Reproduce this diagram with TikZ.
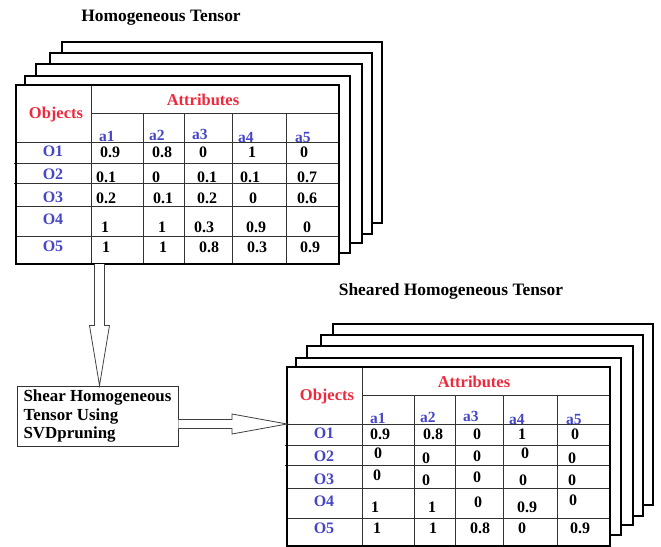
\documentclass[tikz,border=0pt]{standalone}
\usepackage{fontspec}
\setmainfont{Liberation Serif}
\usetikzlibrary{calc}
\definecolor{objred}{RGB}{240,40,60}
\definecolor{labblue}{RGB}{70,70,200}
\tikzset{
 frame/.style={draw=black, line width=2.6pt, fill=white},
 gridline/.style={draw=black!80, line width=0.9pt},
 hdr/.style={font=\fontsize{16.5}{18}\selectfont\bfseries, text=objred, inner sep=0pt, text height=11pt, text depth=0pt},
 rowlab/.style={font=\fontsize{16}{18}\selectfont\bfseries, text=labblue, inner sep=0pt, text height=11pt, text depth=0pt},
 collab/.style={font=\fontsize{15.5}{18}\selectfont\bfseries, text=labblue, inner sep=0pt, text depth=0pt, anchor=base west},
 val/.style={font=\fontsize{16}{18}\selectfont\bfseries, inner sep=0pt, text height=10.5pt, text depth=0pt},
 ttl/.style={font=\fontsize{17.4}{19}\selectfont\bfseries, inner sep=0pt, text height=11pt, text depth=0pt},
 hollow/.style={draw=black!75, line width=0.8pt, fill=white, line join=miter},
 procbox/.style={draw=black!80, line width=0.9pt, fill=white, minimum width=161pt, minimum height=60pt, inner sep=0pt, align=left, font=\fontsize{16.9}{18.7}\selectfont\bfseries},
}
\newcommand\tensorgrid[3]{%
\begin{scope}[shift={(#1,#2)}]
\draw[frame] (62,42) rectangle (382,223);
\draw[frame] (50,53) rectangle (372,234);
\draw[frame] (36,64) rectangle (362,243);
\draw[frame] (25,76) rectangle (350,253);
\draw[frame] (16,85) rectangle (339,264);
\coordinate (#3nw) at (16,85);
\coordinate (#3se) at (339,264);
\coordinate (#3tip) at (16,142);
\draw[gridline] (91,85) -- (91,264);
\draw[gridline] (91,113) -- (339,113);
\draw[gridline] (16,142) -- (339,142);
\draw[gridline] (14,163) -- (339,163);
\draw[gridline] (14,183) -- (339,183);
\draw[gridline] (16,206) -- (339,206);
\draw[gridline] (16,236) -- (339,236);
\foreach \cx in {143,184,232,286} \draw[gridline] (\cx,113) -- (\cx,264);
\draw[draw=black, line width=2.6pt] (16,85) rectangle (339,264);
\node[hdr] (#3obj) at (56,113) {Objects};
\node[hdr] (#3att) at (203,100) {Attributes};
\node[collab] (#3a1) at (99,141.5) {a1};
\node[collab] (#3a2) at (149,140) {a2};
\node[collab] (#3a3) at (192,139) {a3};
\node[collab] (#3a4) at (238,142) {a4};
\node[collab] (#3a5) at (295,142) {a5};
\node[rowlab] (#3o1) at (53,151) {O1};
\node[rowlab] (#3o2) at (53,174) {O2};
\node[rowlab] (#3o3) at (53,197) {O3};
\node[rowlab] (#3o4) at (53,219) {O4};
\node[rowlab] (#3o5) at (53,246) {O5};
\end{scope}}
\newcommand\cellval[4]{\node[val] (#1) at (#2,#3) {#4};}
\begin{document}
\begin{tikzpicture}[x=1pt,y=-1pt]
\useasboundingbox (0,0) rectangle (661,546);
% titles
\node[ttl] (title1) at (161,15.5) {Homogeneous Tensor};
\node[ttl] (title2) at (451,290) {Sheared Homogeneous Tensor};
% top tensor
\tensorgrid{0}{0}{T}
\cellval{t11}{110}{152}{0.9}\cellval{t12}{162}{152}{0.8}\cellval{t13}{203}{152}{0}\cellval{t14}{252}{152}{1}\cellval{t15}{304}{152}{0}
\cellval{t21}{106}{177}{0.1}\cellval{t22}{156}{177}{0}\cellval{t23}{207}{177}{0.1}\cellval{t24}{250}{177}{0.1}\cellval{t25}{307}{177}{0.7}
\cellval{t31}{106}{198}{0.2}\cellval{t32}{163}{198}{0.1}\cellval{t33}{207}{198}{0.2}\cellval{t34}{253}{198}{0}\cellval{t35}{307}{198}{0.6}
\cellval{t41}{105}{227}{1}\cellval{t42}{162}{227}{1}\cellval{t43}{204}{227}{0.3}\cellval{t44}{256}{227}{0.9}\cellval{t45}{307}{227}{0}
\cellval{t51}{106}{247}{1}\cellval{t52}{163}{247}{1}\cellval{t53}{209}{247}{0.8}\cellval{t54}{257}{247}{0.3}\cellval{t55}{310}{247}{0.9}
% bottom tensor
\tensorgrid{271}{282}{B}
\cellval{b11}{380}{434}{0.9}\cellval{b12}{433}{434}{0.8}\cellval{b13}{477}{434}{0}\cellval{b14}{522}{434}{1}\cellval{b15}{575}{434}{0}
\cellval{b21}{378}{453}{0}\cellval{b22}{426}{458}{0}\cellval{b23}{477}{456}{0}\cellval{b24}{525}{453}{0}\cellval{b25}{572}{458}{0}
\cellval{b31}{377}{475}{0}\cellval{b32}{426}{480}{0}\cellval{b33}{477}{477}{0}\cellval{b34}{523}{480}{0}\cellval{b35}{572}{480}{0}
\cellval{b41}{375}{507}{1}\cellval{b42}{432}{507}{1}\cellval{b43}{478}{502}{0}\cellval{b44}{527}{507}{0.9}\cellval{b45}{573}{500}{0}
\cellval{b51}{377}{528}{1}\cellval{b52}{433}{528}{1}\cellval{b53}{480}{528}{0.8}\cellval{b54}{522}{528}{0}\cellval{b55}{580}{528}{0.9}
% process box
\node[procbox] (svd) at (97.5,416) {Shear Homogeneous\\Tensor Using\\SVDpruning};
% arrow from top tensor to box
\draw[hollow] let \p1=($(svd.north)+(2,0)$), \p2=(Tse) in
 (\x1-5pt,\y2) -- (\x1-5pt,\y1+60pt) -- (\x1-10pt,\y1+60pt) -- (\x1,\y1)
 -- (\x1+10pt,\y1+60pt) -- (\x1+5pt,\y1+60pt) -- (\x1+5pt,\y2);
% arrow from box to bottom tensor
\draw[hollow] let \p1=(svd.east), \p2=(Btip) in
 (\x1,\y2+4.5pt) -- (\x2-55pt,\y2+4.5pt) -- (\x2-55pt,\y2+10pt) -- (\x2,\y2)
 -- (\x2-55pt,\y2-10pt) -- (\x2-55pt,\y2-4.5pt) -- (\x1,\y2-4.5pt);
\end{tikzpicture}
\end{document}
